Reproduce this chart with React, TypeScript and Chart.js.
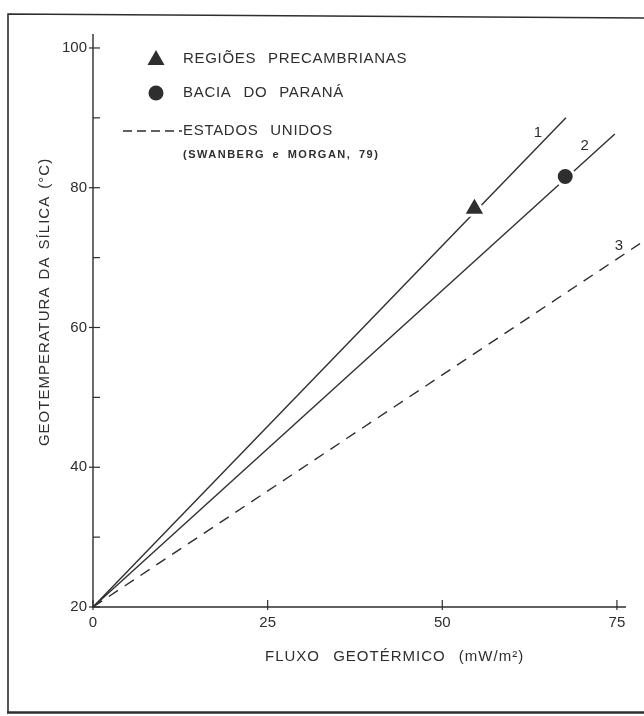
import React, { useEffect, useRef } from "react";
import { Chart, registerables } from "chart.js";
Chart.register(...registerables);

// ---- data ----
const xTicks = [0, 25, 50, 75];
const yTicks = [20, 30, 40, 50, 60, 70, 80, 90, 100];
const yLabelled = [20, 40, 60, 80, 100];

const line1X = [0, 67.7];
const line1Y = [20, 90.0];
const line2X = [0, 74.7];
const line2Y = [20, 87.7];
const line3X = [0, 78.3];
const line3Y = [20, 72.0];

const precambX = [54.6];
const precambY = [77.0];
const paranaX = [67.6];
const paranaY = [81.6];

const lineLabels = ["1", "2", "3"];
const lineLabelX = [63.7, 70.4, 75.3];
const lineLabelY = [87.9, 86.0, 71.7];

const legendLabels = [
  "REGIÕES PRECAMBRIANAS",
  "BACIA DO PARANÁ",
  "ESTADOS UNIDOS",
  "(SWANBERG e MORGAN, 79)",
];
const xTitle = "FLUXO GEOTÉRMICO (mW/m²)";
const yTitle = "GEOTEMPERATURA DA SÍLICA (°C)";

const INK = "#2e2e2e";
const FONT = "'Liberation Sans', Arial, sans-serif";

const pts = (xs: number[], ys: number[]) => xs.map((x, i) => ({ x, y: ys[i] }));

const decorPlugin = {
  id: "decor",
  afterDraw(chart: any) {
    const ctx: any = chart.ctx;
    const xs = chart.scales.x;
    const ys = chart.scales.y;
    const area = chart.chartArea;
    ctx.save();
    ctx.strokeStyle = INK;
    ctx.fillStyle = INK;

    // frame
    ctx.lineWidth = 1.6;
    ctx.beginPath();
    ctx.moveTo(644, 18);
    ctx.lineTo(8, 14);
    ctx.lineTo(8, 712);
    ctx.stroke();
    ctx.lineWidth = 2.4;
    ctx.beginPath();
    ctx.moveTo(7, 712.5);
    ctx.lineTo(644, 712.5);
    ctx.stroke();

    // axes
    const x0 = xs.getPixelForValue(0);
    const y0 = ys.getPixelForValue(20);
    ctx.lineWidth = 1.4;
    ctx.beginPath();
    ctx.moveTo(x0, area.top);
    ctx.lineTo(x0, y0);
    ctx.lineTo(area.right, y0);
    ctx.stroke();

    // ticks
    ctx.lineWidth = 1.2;
    yTicks.forEach((v) => {
      const py = ys.getPixelForValue(v);
      const major = yLabelled.includes(v);
      ctx.beginPath();
      ctx.moveTo(x0 - (major ? 4 : 0), py);
      ctx.lineTo(x0 + 7, py);
      ctx.stroke();
    });
    xTicks.forEach((v) => {
      const px = xs.getPixelForValue(v);
      ctx.beginPath();
      ctx.moveTo(px, y0 - 7);
      ctx.lineTo(px, y0 + 3);
      ctx.stroke();
    });

    // line labels
    ctx.font = `15px ${FONT}`;
    ctx.textAlign = "center";
    ctx.textBaseline = "middle";
    lineLabels.forEach((t, i) => {
      ctx.fillText(t, xs.getPixelForValue(lineLabelX[i]), ys.getPixelForValue(lineLabelY[i]));
    });

    // legend
    ctx.letterSpacing = "0.7px";
    ctx.wordSpacing = "7px";
    ctx.textAlign = "left";
    ctx.beginPath();
    ctx.moveTo(156, 50);
    ctx.lineTo(164.5, 65);
    ctx.lineTo(147.5, 65);
    ctx.closePath();
    ctx.fill();
    ctx.fillText(legendLabels[0], 183, 59);
    ctx.beginPath();
    ctx.arc(156, 93, 7.5, 0, Math.PI * 2);
    ctx.fill();
    ctx.fillText(legendLabels[1], 183, 93);
    ctx.save();
    ctx.lineWidth = 1.5;
    ctx.setLineDash([9, 5]);
    ctx.beginPath();
    ctx.moveTo(123, 131);
    ctx.lineTo(182, 131);
    ctx.stroke();
    ctx.restore();
    ctx.fillText(legendLabels[2], 183, 131);
    ctx.font = `bold 11px ${FONT}`;
    ctx.letterSpacing = "1.5px";
    ctx.wordSpacing = "3px";
    ctx.fillText(legendLabels[3], 183, 155);

    // axis titles
    ctx.font = `15px ${FONT}`;
    ctx.letterSpacing = "1px";
    ctx.wordSpacing = "8px";
    ctx.textAlign = "left";
    ctx.fillText(xTitle, 265, 657);
    ctx.save();
    ctx.wordSpacing = "2px";
    ctx.translate(45, 302);
    ctx.rotate(-Math.PI / 2);
    ctx.textAlign = "center";
    ctx.fillText(yTitle, 0, 0);
    ctx.restore();

    ctx.restore();
  },
};

export default function App() {
  const ref = useRef<HTMLCanvasElement>(null);
  useEffect(() => {
    if (!ref.current) return;
    const lineBase = {
      showLine: true,
      pointRadius: 0,
      pointHoverRadius: 0,
      borderColor: INK,
      borderWidth: 1.4,
      fill: false,
      order: 2,
      clip: false as any,
    };
    const chart = new Chart(ref.current, {
      type: "scatter",
      data: {
        datasets: [
          { label: "Regiões Precambrianas", data: pts(precambX, precambY), pointStyle: "triangle", pointRadius: 13, backgroundColor: INK, borderColor: "#ffffff", borderWidth: 3, order: 0 } as any,
          { label: "Bacia do Paraná", data: pts(paranaX, paranaY), pointStyle: "circle", pointRadius: 9, backgroundColor: INK, borderColor: "#ffffff", borderWidth: 3, order: 0 } as any,
          { label: "1", data: pts(line1X, line1Y), ...lineBase } as any,
          { label: "2", data: pts(line2X, line2Y), ...lineBase } as any,
          { label: "3 (Estados Unidos)", data: pts(line3X, line3Y), ...lineBase, borderDash: [11, 8] } as any,
        ],
      },
      options: {
        animation: false,
        responsive: false,
        devicePixelRatio: 1,
        layout: { padding: { left: 0, top: 34, right: 18, bottom: 0 } },
        plugins: { legend: { display: false }, tooltip: { enabled: false } },
        scales: {
          x: {
            type: "linear",
            min: 0,
            max: 76.3,
            grid: { display: false, drawTicks: false },
            border: { display: false },
            afterBuildTicks: (s: any) => { s.ticks = xTicks.map((v) => ({ value: v })); },
            afterFit: (s: any) => { s.height = 109; },
            ticks: { color: INK, font: { size: 15, family: FONT }, padding: 7, maxRotation: 0 },
          },
          y: {
            type: "linear",
            min: 20,
            max: 102,
            grid: { display: false, drawTicks: false },
            border: { display: false },
            afterBuildTicks: (s: any) => { s.ticks = yTicks.map((v) => ({ value: v })); },
            afterFit: (s: any) => { s.width = 93; },
            ticks: {
              color: INK,
              font: { size: 15, family: FONT },
              padding: 6,
              callback: (v: any) => (yLabelled.includes(Number(v)) ? String(v) : ""),
            },
          },
        },
      },
      plugins: [decorPlugin],
    });
    return () => chart.destroy();
  }, []);
  return (
    <div style={{ position: "absolute", left: 0, top: 0, width: 644, height: 716, background: "#ffffff" }}>
      <canvas ref={ref} width={644} height={716} />
    </div>
  );
}
